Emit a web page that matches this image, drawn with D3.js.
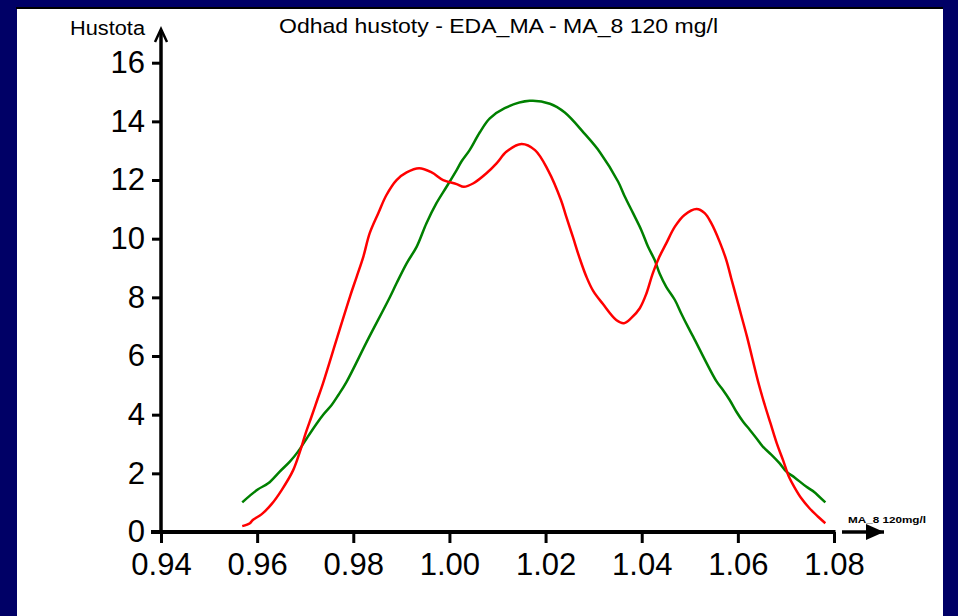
<!DOCTYPE html>
<html>
<head>
<meta charset="utf-8">
<script src="https://cdn.jsdelivr.net/npm/d3@7"></script>
<style>
  body { margin: 0; background: #000066; }
  svg { display: block; }
  .tick text { font-family: "Liberation Sans", Arial, sans-serif; fill: #000; }
</style>
</head>
<body>
<div id="chart"></div>
<script>
// density estimate, red curve (x, density)
var redX = [0.9569, 0.9585, 0.9591, 0.9609, 0.9630, 0.9651, 0.9675, 0.9689, 0.9701, 0.9713, 0.9725, 0.9737,
  0.9765, 0.9793, 0.9807, 0.9821, 0.9834, 0.9852, 0.9869, 0.9890, 0.9911, 0.9937, 0.9963, 0.9987, 1.0015,
  1.0030, 1.0050, 1.0077, 1.0098, 1.0119, 1.0150, 1.0178, 1.0205, 1.0232, 1.0243, 1.0257, 1.0271, 1.0285,
  1.0299, 1.0319, 1.0347, 1.0363, 1.0378, 1.0396, 1.0410, 1.0423, 1.0437, 1.0451, 1.0469, 1.0489, 1.0514,
  1.0531, 1.0545, 1.0562, 1.0576, 1.0586, 1.0597, 1.0607, 1.0619, 1.0644, 1.0656, 1.0668, 1.0681, 1.0694,
  1.0706, 1.0719, 1.0732, 1.0749, 1.0767, 1.0782];
var redY = [0.20, 0.30, 0.41, 0.60, 0.95, 1.43, 2.11, 2.74, 3.37, 3.93, 4.50, 5.07,
  6.55, 8.02, 8.70, 9.39, 10.18, 10.87, 11.49, 12.00, 12.26, 12.40, 12.26, 12.00, 11.86,
  11.77, 11.89, 12.23, 12.57, 12.97, 13.23, 13.02, 12.34, 11.32, 10.75, 10.05, 9.33, 8.70,
  8.22, 7.78, 7.23, 7.12, 7.29, 7.63, 8.14, 8.82, 9.39, 9.84, 10.41, 10.81, 11.01,
  10.87, 10.52, 9.90, 9.27, 8.66, 8.00, 7.39, 6.66, 5.01, 4.33, 3.70, 3.02, 2.45,
  1.89, 1.49, 1.15, 0.81, 0.52, 0.30];

// density estimate, green curve (x, density)
var greenX = [0.9569, 0.9585, 0.9602, 0.9623, 0.9647, 0.9668, 0.9685, 0.9703, 0.9724, 0.9737, 0.9755, 0.9769,
  0.9786, 0.9830, 0.9875, 0.9890, 0.9911, 0.9932, 0.9952, 0.9973, 0.9994, 1.0015, 1.0025, 1.0042, 1.0063,
  1.0084, 1.0115, 1.0167, 1.0209, 1.0240, 1.0280, 1.0313, 1.0351, 1.0365, 1.0382, 1.0399, 1.0413, 1.0427,
  1.0437, 1.0451, 1.0469, 1.0482, 1.0496, 1.0507, 1.0555, 1.0569, 1.0583, 1.0597, 1.0611, 1.0625, 1.0639,
  1.0652, 1.0670, 1.0687, 1.0701, 1.0718, 1.0742, 1.0760, 1.0782];
var greenY = [1.01, 1.24, 1.46, 1.66, 2.06, 2.40, 2.74, 3.19, 3.70, 3.99, 4.33, 4.67,
  5.12, 6.55, 7.97, 8.48, 9.16, 9.73, 10.52, 11.21, 11.77, 12.34, 12.63, 13.02, 13.62,
  14.10, 14.45, 14.70, 14.60, 14.30, 13.60, 12.95, 11.94, 11.43, 10.87, 10.30, 9.73, 9.27,
  8.82, 8.36, 7.91, 7.46, 7.00, 6.66, 5.15, 4.84, 4.50, 4.10, 3.76, 3.48, 3.19,
  2.91, 2.63, 2.34, 2.06, 1.86, 1.55, 1.35, 1.01];

var xTicks = [0.94, 0.96, 0.98, 1.00, 1.02, 1.04, 1.06, 1.08];
var yTicks = [0, 2, 4, 6, 8, 10, 12, 14, 16];

var W = 958, H = 616;

var svg = d3.select("#chart").append("svg")
  .attr("width", W)
  .attr("height", H);

// navy frame + white panel
svg.append("rect").attr("width", W).attr("height", H).attr("fill", "#000066");
svg.append("rect").attr("x", 16).attr("y", 7).attr("width", 927).attr("height", 2).attr("fill", "#000");
svg.append("rect").attr("x", 17).attr("y", 9).attr("width", 926).attr("height", H - 9).attr("fill", "#fff");

var x = d3.scaleLinear().domain([0.94, 1.08]).range([161, 834]);
var y = d3.scaleLinear().domain([0, 16]).range([532, 62.7]);

// title
svg.append("text")
  .attr("x", 279).attr("y", 33)
  .attr("textLength", 439).attr("lengthAdjust", "spacingAndGlyphs")
  .style("font-family", "Liberation Sans, Arial, sans-serif")
  .style("font-size", "21px")
  .text("Odhad hustoty - EDA_MA - MA_8 120 mg/l");

// y label
svg.append("text")
  .attr("x", 70).attr("y", 35)
  .attr("textLength", 75).attr("lengthAdjust", "spacingAndGlyphs")
  .style("font-family", "Liberation Sans, Arial, sans-serif")
  .style("font-size", "20px")
  .text("Hustota");

// x label (tiny)
svg.append("text")
  .attr("x", 848).attr("y", 523)
  .attr("textLength", 78).attr("lengthAdjust", "spacingAndGlyphs")
  .style("font-family", "Liberation Sans, Arial, sans-serif")
  .style("font-size", "9px")
  .style("font-weight", "bold")
  .text("MA_8 120mg/l");

// axes
var xAxisCall = d3.axisBottom(x)
  .tickValues(xTicks)
  .tickSize(11)
  .tickPadding(10)
  .tickFormat(d3.format(".2f"));
var gx = svg.append("g")
  .attr("transform", "translate(0," + y(0) + ")")
  .call(xAxisCall);
gx.select(".domain").remove();
gx.selectAll(".tick line").attr("stroke", "#000").attr("stroke-width", 3);
gx.selectAll(".tick text").style("font-size", "31px");

var yAxisCall = d3.axisLeft(y)
  .tickValues(yTicks)
  .tickSize(9)
  .tickPadding(7);
var gy = svg.append("g")
  .attr("transform", "translate(" + x(0.94) + ",0)")
  .call(yAxisCall);
gy.select(".domain").remove();
gy.selectAll(".tick line").attr("stroke", "#000").attr("stroke-width", 3);
gy.selectAll(".tick text").style("font-size", "31px");

// axis lines with arrows
svg.append("line")
  .attr("x1", 151).attr("x2", x(1.08) + 1.5)
  .attr("y1", y(0)).attr("y2", y(0))
  .attr("stroke", "#000").attr("stroke-width", 4);
svg.append("line")
  .attr("x1", x(0.94)).attr("x2", x(0.94))
  .attr("y1", y(0) + 2).attr("y2", 30)
  .attr("stroke", "#000").attr("stroke-width", 3.5);
svg.append("path")
  .attr("d", "M" + (x(0.94) - 6) + ",42 L" + x(0.94) + ",29 L" + (x(0.94) + 6) + ",42")
  .attr("fill", "none").attr("stroke", "#000").attr("stroke-width", 2.5);

svg.append("line")
  .attr("x1", 842).attr("x2", 884)
  .attr("y1", y(0)).attr("y2", y(0))
  .attr("stroke", "#000").attr("stroke-width", 3.5);
svg.append("path")
  .attr("d", "M866,524 L884,532 L866,540 Z")
  .attr("fill", "#000");

// curves
var line = d3.line()
  .x(function(d){ return x(d[0]); })
  .y(function(d){ return y(d[1]); })
  .curve(d3.curveCatmullRom.alpha(0.5));

svg.append("path")
  .datum(d3.zip(greenX, greenY))
  .attr("d", line)
  .attr("fill", "none")
  .attr("stroke", "#008000")
  .attr("stroke-width", 2.5);

svg.append("path")
  .datum(d3.zip(redX, redY))
  .attr("d", line)
  .attr("fill", "none")
  .attr("stroke", "#ff0000")
  .attr("stroke-width", 2.5);
</script>
</body>
</html>
